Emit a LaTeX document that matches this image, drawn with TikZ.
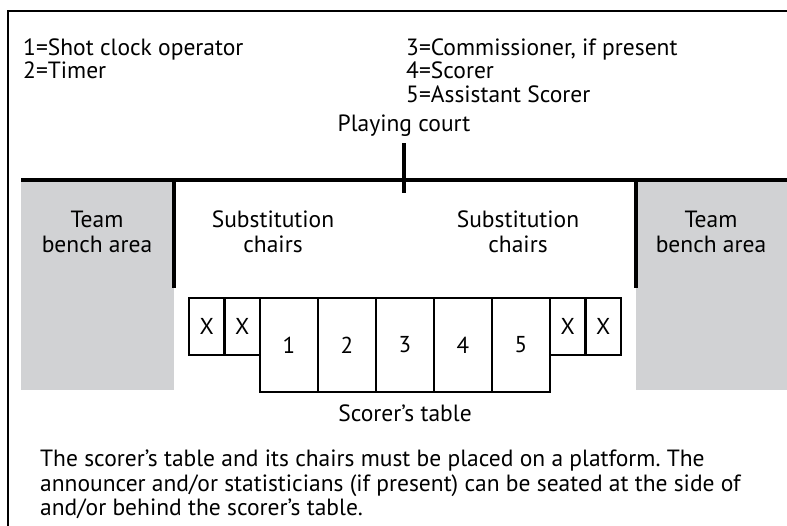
\documentclass[tikz,border=0pt]{standalone}
\usepackage{fontspec}
\setmainfont{PT Sans}
\frenchspacing
\usetikzlibrary{positioning}

\definecolor{benchgray}{HTML}{D1D2D4}

\tikzset{
  lbl/.style={font=\fontsize{23.5}{24.5}\selectfont, inner sep=0pt, align=center},
  legend/.style={lbl, anchor=base west, align=left},
  seat/.style={draw, line width=2.8pt, outer sep=0pt, minimum width=35.5pt, minimum height=57pt, inner sep=0pt, font=\fontsize{23}{24}\selectfont},
  cell/.style={draw, line width=2.8pt, outer sep=0pt, minimum width=58pt, minimum height=94pt, inner sep=0pt, font=\fontsize{23}{24}\selectfont},
  bench/.style={fill=benchgray},
  wall/.style={line width=3.3pt}
}

\begin{document}
\begin{tikzpicture}[x=1pt, y=-1pt]
  \useasboundingbox (0,0) rectangle (787,525);
  % frame
  \draw[line width=1.6pt] (8,530) -- (8,11) -- (795,11);
  % legend
  \node[legend] (l1) at (23,55) {1=Shot clock operator};
  \node[legend] (l2) at (23,78) {2=Timer};
  \node[legend] (l3) at (406,55) {3=Commissioner, if present};
  \node[legend] (l4) at (406,78) {4=Scorer};
  \node[legend] (l5) at (406,102) {5=Assistant Scorer};
  \node[lbl, anchor=base] (court) at (404,131) {Playing court};
  % bench areas
  \fill[bench] (21,180) rectangle (174,390);
  \fill[bench] (636,180) rectangle (790,390);
  \node[lbl] (benchL) at (97,232) {Team\\bench area};
  \node[lbl] (benchR) at (711,232) {Team\\bench area};
  \node[lbl] (subL) at (273,232) {Substitution\\chairs};
  \node[lbl] (subR) at (518,232) {Substitution\\chairs};
  % court line and walls
  \coordinate (tickTop) at (404,143);
  \coordinate (tickBot) at (404,193);
  \draw[wall] (21,180) -- (790,180);
  \draw[wall] (tickTop) -- (tickBot);
  \draw[wall] (174,180) -- (174,288);
  \draw[wall] (636,180) -- (636,288);
  % scorer's table
  \node[seat, anchor=north west] (xa) at (189,298) {X};
  \node[seat, right=0pt of xa] (xb) {X};
  \node[cell, anchor=north west] (c1) at (xb.north east) {1};
  \node[cell, right=0pt of c1] (c2) {2};
  \node[cell, right=0pt of c2] (c3) {3};
  \node[cell, right=0pt of c3] (c4) {4};
  \node[cell, right=0pt of c4] (c5) {5};
  \node[seat, anchor=north west] (xc) at (c5.north east) {X};
  \node[seat, right=0pt of xc] (xd) {X};
  \node[lbl, anchor=base] (table) at (c3.center |- 0,421) {Scorer’s table};
  % note
  \node[legend, anchor=north west] (note) at (40,450)
    {The scorer’s table and its chairs must be placed on a platform. The\\
     announcer and/or statisticians (if present) can be seated at the side of\\
     and/or behind the scorer’s table.};
\end{tikzpicture}
\end{document}
